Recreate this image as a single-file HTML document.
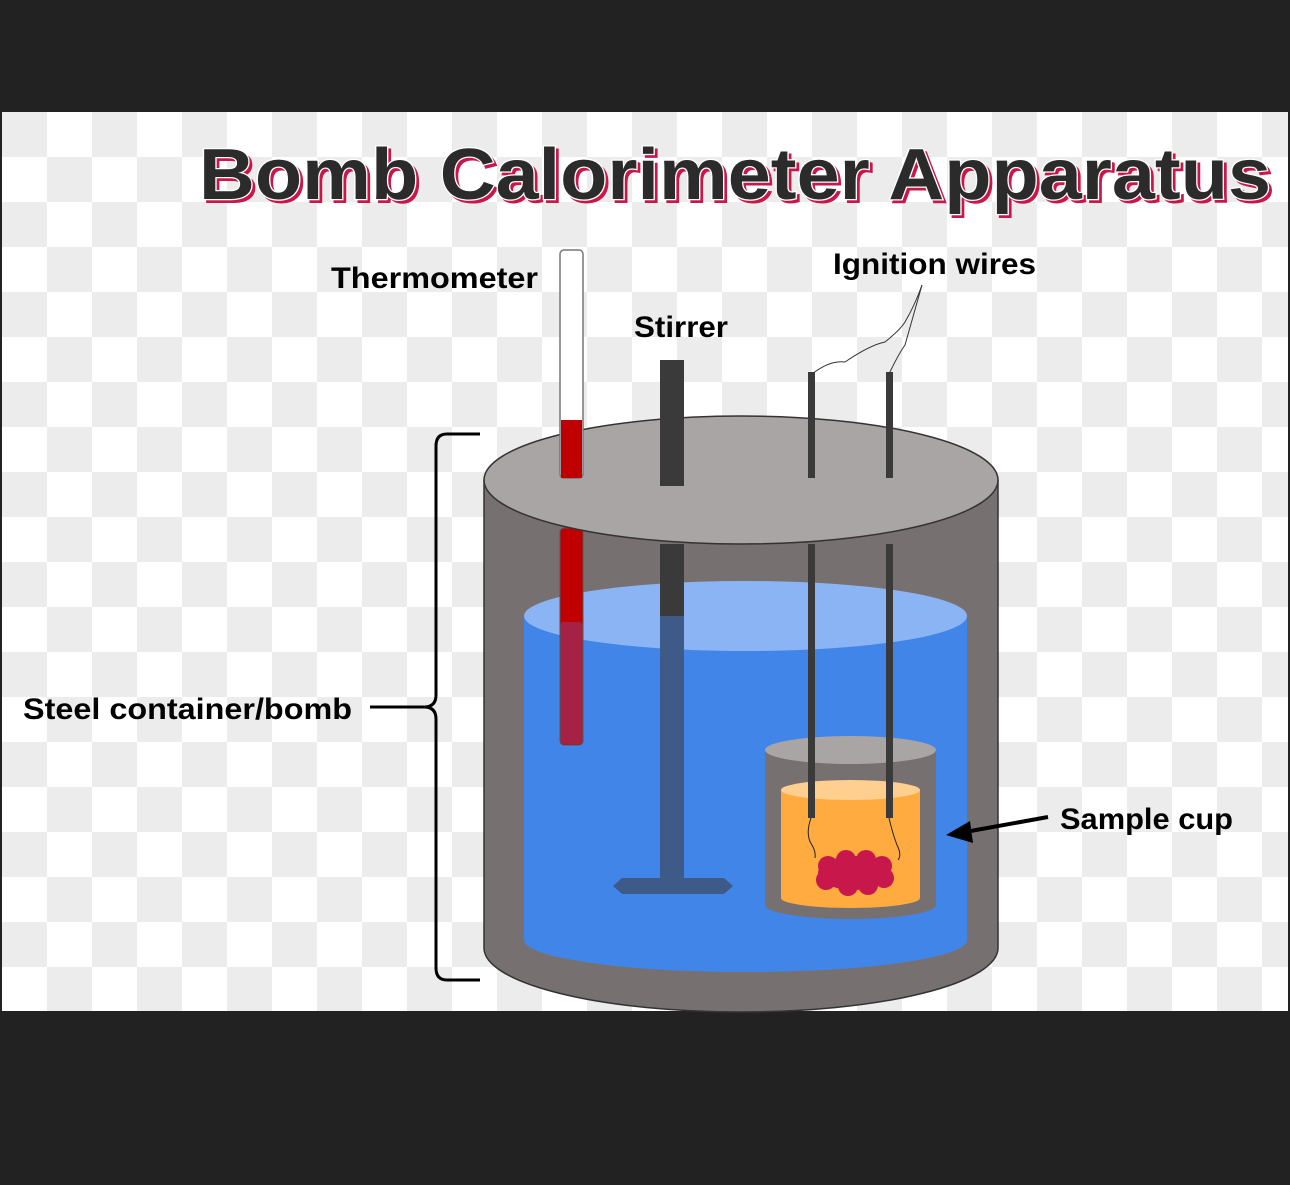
<!DOCTYPE html>
<html><head><style>html,body{margin:0;padding:0;background:#222;}svg{display:block}</style></head><body>
<svg width="1290" height="1185" viewBox="0 0 1290 1185" xmlns="http://www.w3.org/2000/svg">
<defs>
<pattern id="ck" x="2" y="112" width="90" height="90" patternUnits="userSpaceOnUse">
<rect width="90" height="90" fill="#fff"/>
<rect width="45" height="45" fill="#ececec"/>
<rect x="45" y="45" width="45" height="45" fill="#ececec"/>
</pattern>
</defs>
<rect width="1290" height="1185" fill="#222"/>
<rect x="2" y="112" width="1286" height="899" fill="url(#ck)"/>
<g font-family="Liberation Sans, sans-serif" font-weight="bold">
<text x="202" y="202" font-size="72" fill="#c8174a" stroke="#c8174a" stroke-width="2" textLength="1072" lengthAdjust="spacingAndGlyphs">Bomb Calorimeter Apparatus</text>
<text x="199" y="199" font-size="72" fill="#2b2b2b" stroke="#fff" stroke-width="2.5" paint-order="stroke" textLength="1072" lengthAdjust="spacingAndGlyphs">Bomb Calorimeter Apparatus</text>
<g font-size="30" fill="#000">
<text x="331" y="288" textLength="207" lengthAdjust="spacingAndGlyphs">Thermometer</text>
<text x="634" y="337" textLength="94" lengthAdjust="spacingAndGlyphs">Stirrer</text>
<text x="833" y="274" textLength="203" lengthAdjust="spacingAndGlyphs">Ignition wires</text>
<text x="23" y="719" textLength="329" lengthAdjust="spacingAndGlyphs">Steel container/bomb</text>
<text x="1060" y="829" textLength="173" lengthAdjust="spacingAndGlyphs">Sample cup</text>
</g>
</g>
<!-- bracket -->
<path d="M480 434 H447 Q436 434 436 446 V695 Q436 707 424 707 Q436 707 436 719 V968 Q436 980 447 980 H480" fill="none" stroke="#000" stroke-width="3"/>
<line x1="370" y1="707" x2="425" y2="707" stroke="#000" stroke-width="3"/>
<!-- body -->
<path d="M484 480 V948 A257 64 0 0 0 998 948 V480 Z" fill="#767170" stroke="#333" stroke-width="1.5"/>
<!-- water -->
<path d="M524 616 V940 A221.5 32 0 0 0 967 940 V616 Z" fill="#4285e8"/>
<ellipse cx="745.5" cy="616" rx="221.5" ry="35" fill="#8ab4f4"/>
<!-- thermometer below lid -->
<rect x="560" y="528" width="23" height="217" rx="4" fill="#c00000" stroke="#555" stroke-width="1"/>
<rect x="560.5" y="622" width="22" height="122" rx="3" fill="#a02850" opacity="0.85"/>
<!-- stirrer below -->
<rect x="660" y="544" width="24" height="72" fill="#3a3a3a"/>
<rect x="660" y="616" width="24" height="266" fill="#3e5a88"/>
<path d="M622 878 H724 L733 886 L724 894 H622 L613 886 Z" fill="#3e5a88"/>
<!-- sample cup -->
<path d="M765 750 V905 A85.5 14 0 0 0 936 905 V750 Z" fill="#767170"/>
<ellipse cx="850.5" cy="750" rx="85.5" ry="14" fill="#a9a5a5"/>
<path d="M781 790 V898 A69.5 10 0 0 0 920 898 V790 Z" fill="#ffab40"/>
<ellipse cx="850.5" cy="790" rx="69.5" ry="10" fill="#ffcf90"/>
<!-- wires below lid -->
<rect x="808" y="544" width="7" height="274" fill="#3a3a3a"/>
<rect x="886" y="544" width="7" height="274" fill="#3a3a3a"/>
<path d="M811 818 Q805 835 812 845 Q816 852 815 858 M889 818 Q893 835 897 845 Q902 855 898 860" fill="none" stroke="#222" stroke-width="1"/>
<g fill="#c8174a">
<ellipse cx="854" cy="873" rx="36" ry="17"/>
<circle cx="828" cy="866" r="10"/><circle cx="846" cy="860" r="10"/><circle cx="866" cy="860" r="10"/><circle cx="882" cy="866" r="10"/>
<circle cx="826" cy="880" r="10"/><circle cx="848" cy="886" r="10"/><circle cx="868" cy="885" r="10"/><circle cx="884" cy="878" r="10"/>
</g>
<!-- lid -->
<ellipse cx="741" cy="480" rx="257" ry="64" fill="#a9a5a5" stroke="#333" stroke-width="1.5"/>
<!-- thermometer above -->
<rect x="560" y="250" width="23" height="228" rx="4" fill="#fff" stroke="#777" stroke-width="1.5"/>
<rect x="561" y="420" width="21" height="58" fill="#c00000"/>
<!-- stirrer above -->
<rect x="660" y="360" width="24" height="126" fill="#3a3a3a"/>
<!-- wires above -->
<rect x="808" y="372" width="7" height="106" fill="#3a3a3a"/>
<rect x="886" y="372" width="7" height="106" fill="#3a3a3a"/>
<path d="M812 374 Q830 360 845 362 Q870 345 885 342 Q900 330 905 322 Q915 305 922 285" fill="none" stroke="#333" stroke-width="1"/>
<path d="M889 374 Q898 355 905 345 Q912 320 922 285" fill="none" stroke="#333" stroke-width="1"/>
<!-- arrow -->
<line x1="1048" y1="817" x2="965" y2="832" stroke="#000" stroke-width="4"/>
<path d="M946 835 L970 821 L973 843 Z" fill="#000"/>
</svg>
</body></html>
